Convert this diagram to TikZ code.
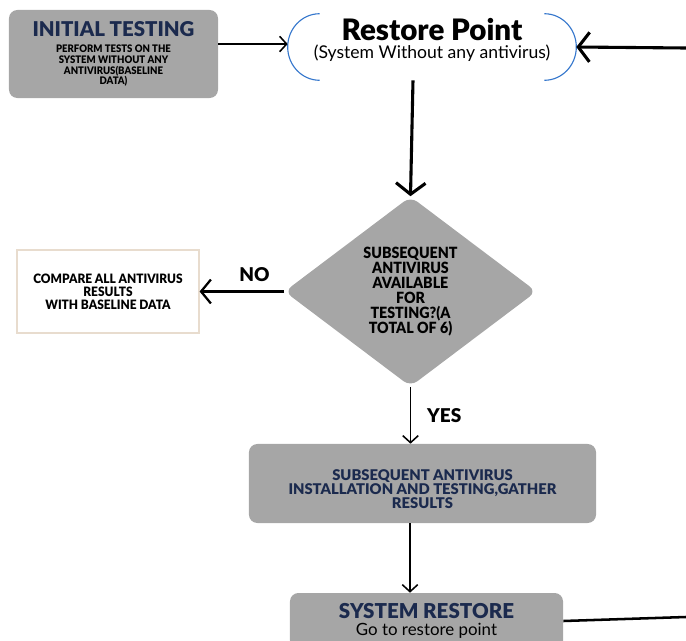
\documentclass[tikz,border=0pt]{standalone}
\usepackage{fontspec}
\setmainfont{Lato}
\newfontfamily\heavyfont{Lato Black}
\newfontfamily\condfont[FakeStretch=0.92]{Lato Black}
\usetikzlibrary{shapes.geometric,arrows.meta}
\definecolor{boxgray}{RGB}{166,166,166}
\definecolor{navy}{RGB}{27,42,78}
\definecolor{bracketblue}{RGB}{52,118,204}
\definecolor{beige}{RGB}{232,220,206}
\begin{document}
\begin{tikzpicture}[x=0.025cm,y=-0.025cm,
    gbox/.style={fill=boxgray,rounded corners=6pt,align=center,inner sep=0pt},
    thin arrow/.style={-{Straight Barb[length=5pt,width=11pt]},line width=1.1pt},
    mid arrow/.style={-{Straight Barb[length=7pt,width=17pt]},line width=1.6pt},
    thick arrow/.style={-{Straight Barb[length=8pt,width=21pt]},line width=2.2pt},
    tag/.style={font=\fontsize{13.5}{15}\selectfont\heavyfont}]
  \useasboundingbox (0,0) rectangle (686,640);
  \node[gbox,minimum width=5.225cm,minimum height=2.2cm,font=\fontsize{7.4}{7.5}\selectfont\condfont] (init) at (113.5,54)
    {{\fontsize{14.5}{16}\selectfont\heavyfont\color{navy}INITIAL TESTING}\\[4pt]
     PERFORM TESTS ON THE\\ SYSTEM WITHOUT ANY\\ ANTIVIRUS(BASELINE\\ DATA)};
  \node[minimum width=7.2cm,minimum height=1.65cm] (restore) at (432,47) {};
  \node[align=center,inner sep=0pt] (restoretxt) at (432,40)
    {{\fontsize{21}{23}\selectfont\heavyfont Restore Point}\\[1pt]
     \fontsize{12.5}{14}\selectfont (System Without any antivirus)};
  \draw[bracketblue,line width=0.8pt] ([xshift=0.8cm]restore.north west) to[out=180,in=90] (restore.west)
    to[out=-90,in=180] ([xshift=0.8cm]restore.south west);
  \draw[bracketblue,line width=0.8pt] ([xshift=-0.8cm]restore.north east) to[out=0,in=90] (restore.east)
    to[out=-90,in=0] ([xshift=-0.8cm]restore.south east);
  \node[diamond,fill=boxgray,rounded corners=6pt,minimum width=6.3cm,minimum height=4.75cm,
    inner sep=0pt,aspect=1.34,align=center,font=\fontsize{11}{10.6}\selectfont\condfont] (avail) at (410.5,291.5)
    {SUBSEQUENT\\ ANTIVIRUS\\ AVAILABLE\\ FOR\\ TESTING?(A\\ TOTAL OF 6)};
  \node[draw=beige,line width=0.8pt,minimum width=4.55cm,minimum height=2.075cm,align=center,
    font=\fontsize{9.2}{9}\selectfont\condfont] (compare) at (108,291.5)
    {\\[-2pt]COMPARE ALL ANTIVIRUS\\ RESULTS\\ WITH BASELINE DATA};
  \node[gbox,minimum width=8.675cm,minimum height=1.975cm] (install) at (422.5,483.5) {};
  \node[align=center,inner sep=0pt,font=\fontsize{10.5}{10}\selectfont\heavyfont,text=navy] (installtxt) at (422.5,489.5)
    {SUBSEQUENT ANTIVIRUS\\ INSTALLATION AND TESTING,GATHER\\ RESULTS};
  \node[gbox,minimum width=6.825cm,minimum height=1.4cm] (sysrestore) at (426.5,621)
    {{\fontsize{14.6}{16}\selectfont\heavyfont\color{navy}SYSTEM RESTORE}\\
     \fontsize{12}{13}\selectfont Go to restore point};
  \coordinate (rin) at (686,48);
  \coordinate (rout) at (686,617);
  \draw[thin arrow] (init.east |- 0,44) -- (restore.west |- 0,44);
  \draw[thick arrow] (rin) -- (restore.east);
  \draw[thick arrow] (restore.south -| 413,0) -- (avail.north);
  \draw[mid arrow] (avail.west) -- node[tag,above=3pt,pos=0.35] (no) {NO} (compare.east);
  \draw[thin arrow] (avail.south) -- node[tag,right=8pt] (yes) {YES} (avail.south |- install.north);
  \draw[thin arrow] (install.south -| 410,0) -- (sysrestore.north -| 410,0);
  \draw[line width=1.8pt] (sysrestore.east) -- (rout);
\end{tikzpicture}
\end{document}
